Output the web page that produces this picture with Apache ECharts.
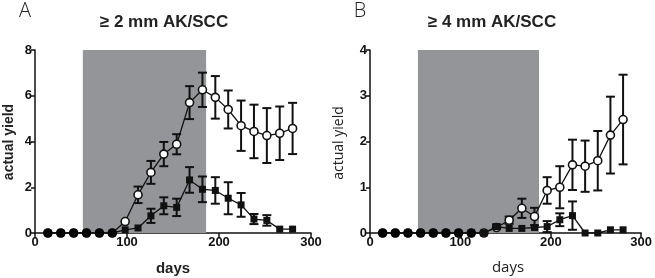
<!DOCTYPE html>
<html>
<head>
<meta charset="utf-8">
<script src="https://cdn.jsdelivr.net/npm/echarts@6/dist/echarts.min.js"></script>
<style>
html,body{margin:0;padding:0;background:#fff;}
#chart{width:655px;height:278px;}
</style>
</head>
<body>
<div id="chart"></div>
<script>
// ---- data ----
var days = [14,28,42,56,70,84,98,112,126,140,154,168,182,196,210,224,238,252,266,280];

// Panel A (>= 2 mm)
var openA    = [0,0,0,0,0,0,0.5,1.67,2.65,3.45,3.88,5.7,6.26,5.93,5.4,4.69,4.44,4.26,4.36,4.57];
var openErrA = [0,0,0,0,0,0,0,0.36,0.5,0.53,0.44,0.72,0.75,0.93,0.83,1.1,1.17,1.2,1.17,1.12];
var sqA      = [0,0,0,0,0,0,0.14,0.22,0.75,1.19,1.12,2.32,1.91,1.86,1.52,1.23,0.61,0.55,0.17,0.17];
var sqErrA   = [0,0,0,0,0,0,0,0,0.31,0.37,0.38,0.56,0.56,0.58,0.7,0.52,0.22,0.23,0,0];
var zeroDaysA = [14,28,42,56,70,84];
var shadeA = [52, 186];

// Panel B (>= 4 mm)
var openB    = [0,0,0,0,0,0,0,0,0,0.12,0.28,0.54,0.36,0.93,1.0,1.49,1.46,1.58,2.14,2.48];
var openErrB = [0,0,0,0,0,0,0,0,0,0,0.08,0.21,0.19,0.29,0.46,0.55,0.56,0.65,0.84,0.98];
var sqB      = [0,0,0,0,0,0,0,0,0,0.14,0.1,0.1,0.12,0.14,0.29,0.38,0,0,0.07,0.07];
var sqErrB   = [0,0,0,0,0,0,0,0,0,0.05,0,0,0,0.12,0.14,0.31,0,0,0,0];
var zeroDaysB = [14,28,42,56,70,84,98,112];
var shadeB = [53, 187];

var yTicksA = [0,8,2];   // min, max, interval
var yTicksB = [0,4,1];
var xTicks  = [0,300,100];

var titleA = '\u2265 2 mm AK/SCC';
var titleB = '\u2265 4 mm AK/SCC';
// ---- end data ----

function pairs(xs, ys){ return xs.map(function(x,i){ return [x, ys[i]]; }); }
function triples(xs, ys, es){ return xs.map(function(x,i){ return [x, ys[i], es[i]]; }); }

function errSeries(idx, data){
  return {
    type:'custom', xAxisIndex:idx, yAxisIndex:idx, z:2,
    data:data,
    renderItem:function(params, api){
      var x = api.value(0), y = api.value(1), e = api.value(2);
      if (!e) return;
      var t = api.coord([x, y+e]), b = api.coord([x, y-e]);
      var w = 4.5;
      var st = {stroke:'#111', lineWidth:2};
      return {type:'group', children:[
        {type:'line', shape:{x1:t[0],y1:t[1],x2:b[0],y2:b[1]}, style:st},
        {type:'line', shape:{x1:t[0]-w,y1:t[1],x2:t[0]+w,y2:t[1]}, style:st},
        {type:'line', shape:{x1:b[0]-w,y1:b[1],x2:b[0]+w,y2:b[1]}, style:st}
      ]};
    }
  };
}
function shadeSeries(idx, range, ymax){
  return {
    type:'custom', xAxisIndex:idx, yAxisIndex:idx, z:1, silent:true,
    data:[[range[0], range[1], ymax]],
    renderItem:function(params, api){
      var p0 = api.coord([api.value(0), api.value(2)]);
      var p1 = api.coord([api.value(1), 0]);
      return {type:'rect', shape:{x:p0[0], y:p0[1], width:p1[0]-p0[0], height:p1[1]-p0[1]},
        style:{fill:'#949598'}};
    }
  };
}
function openLine(idx, data){
  return {type:'line', xAxisIndex:idx, yAxisIndex:idx, z:3, data:data,
    symbol:'circle', symbolSize:8, showAllSymbol:true,
    itemStyle:{color:'#fff', borderColor:'#111', borderWidth:1.6},
    lineStyle:{color:'#111', width:1.3}, animation:false};
}
function sqLine(idx, data){
  return {type:'line', xAxisIndex:idx, yAxisIndex:idx, z:4, data:data,
    symbol:'rect', symbolSize:7, showAllSymbol:true,
    itemStyle:{color:'#111'},
    lineStyle:{color:'#111', width:1.3}, animation:false};
}
function zeroPts(idx, xs){
  return {type:'scatter', xAxisIndex:idx, yAxisIndex:idx, z:5,
    data:xs.map(function(x){return [x,0];}),
    symbol:'circle', symbolSize:9, itemStyle:{color:'#000'}, animation:false};
}
var axLine = {show:true, lineStyle:{color:'#111', width:1.5}};
var axLabel = {color:'#111', fontFamily:'Liberation Sans', fontWeight:'bold', fontSize:13};
function xAx(idx){
  return {type:'value', gridIndex:idx, min:xTicks[0], max:xTicks[1], interval:xTicks[2],
    axisLine:axLine, axisTick:{show:true, length:5, lineStyle:{color:'#111', width:1.5}},
    axisLabel:Object.assign({margin:3}, axLabel), splitLine:{show:false}};
}
function yAx(idx, t){
  return {type:'value', gridIndex:idx, min:t[0], max:t[1], interval:t[2],
    axisLine:axLine, axisTick:{show:true, length:4, lineStyle:{color:'#111', width:1.5}},
    axisLabel:Object.assign({margin:3}, axLabel), splitLine:{show:false}};
}

var chart = echarts.init(document.getElementById('chart'), null, {renderer:'canvas'});
chart.setOption({
  animation:false,
  grid:[
    {left:35, right:344, top:50, bottom:45},
    {left:370, right:12, top:50, bottom:45}
  ],
  xAxis:[xAx(0), xAx(1)],
  yAxis:[yAx(0, yTicksA), yAx(1, yTicksB)],
  series:[
    shadeSeries(0, shadeA, yTicksA[1]),
    errSeries(0, triples(days, openA, openErrA)),
    errSeries(0, triples(days, sqA, sqErrA)),
    openLine(0, pairs(days, openA)),
    sqLine(0, pairs(days, sqA)),
    zeroPts(0, zeroDaysA),
    shadeSeries(1, shadeB, yTicksB[1]),
    errSeries(1, triples(days, openB, openErrB)),
    errSeries(1, triples(days, sqB, sqErrB)),
    openLine(1, pairs(days, openB)),
    sqLine(1, pairs(days, sqB)),
    zeroPts(1, zeroDaysB)
  ],
  graphic:[
    {type:'text', x:25, y:11, style:{text:'A', font:'300 20px "Open Sans"', fill:'#222', textAlign:'center', textVerticalAlign:'middle'}},
    {type:'text', x:360, y:11, style:{text:'B', font:'300 20px "Open Sans"', fill:'#222', textAlign:'center', textVerticalAlign:'middle'}},
    {type:'text', x:164, y:22, style:{text:titleA, font:'bold 17px "Liberation Sans"', fill:'#222', textAlign:'center', textVerticalAlign:'middle'}},
    {type:'text', x:492, y:22, style:{text:titleB, font:'bold 17px "Liberation Sans"', fill:'#222', textAlign:'center', textVerticalAlign:'middle'}},
    {type:'text', x:173, y:269, style:{text:'days', font:'bold 15px "Liberation Sans"', fill:'#222', textAlign:'center', textVerticalAlign:'middle'}},
    {type:'text', x:508, y:268, style:{text:'days', font:'15px "Open Sans"', fill:'#222', textAlign:'center', textVerticalAlign:'middle'}},
    {type:'text', x:9, y:142, rotation:Math.PI/2, style:{text:'actual yield', font:'bold 14px "Liberation Sans"', fill:'#222', textAlign:'center', textVerticalAlign:'middle'}},
    {type:'text', x:339, y:143, rotation:Math.PI/2, style:{text:'actual yield', font:'14px "Open Sans"', fill:'#222', textAlign:'center', textVerticalAlign:'middle'}}
  ]
});
</script>
</body>
</html>
